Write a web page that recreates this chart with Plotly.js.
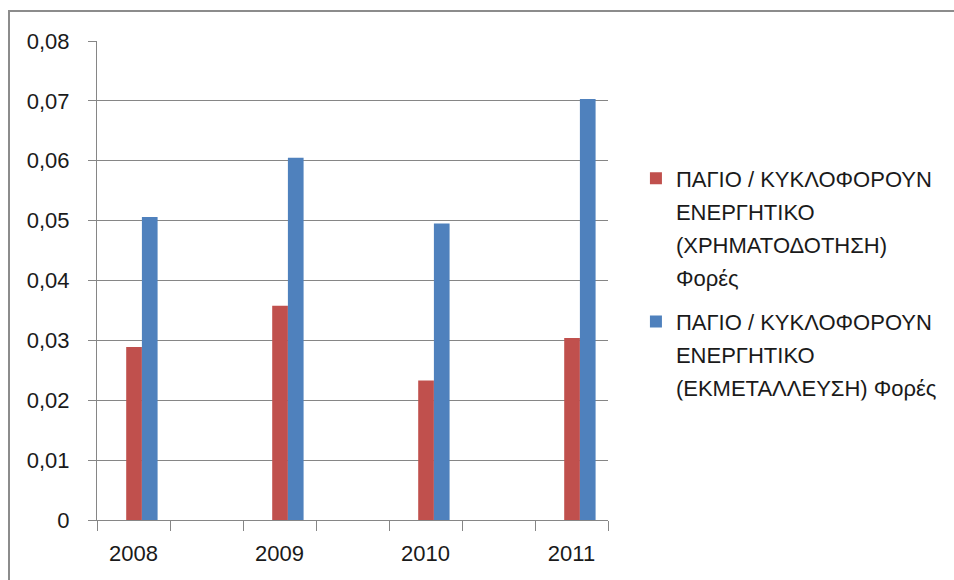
<!DOCTYPE html>
<html>
<head>
<meta charset="utf-8">
<script src="https://cdn.plot.ly/plotly-3.0.1.min.js"></script>
<style>
  html, body { margin: 0; padding: 0; background: #ffffff; }
  #wrap { position: relative; width: 954px; height: 580px; overflow: hidden; }
  #chart { position: absolute; left: 0; top: 0; width: 954px; height: 580px; }
  #frame { position: absolute; left: 8px; top: 10px; width: 960px; height: 600px;
           border-left: 2px solid #8c8c8c; border-top: 2px solid #8c8c8c; pointer-events: none; }
</style>
</head>
<body>
<div id="wrap">
  <div id="chart"></div>
  <div id="frame"></div>
</div>
<script>
// ---- data ----
var years = ["2008", "2009", "2010", "2011"];
var financing = [0.0289, 0.0358, 0.0233, 0.0304];   // ΧΡΗΜΑΤΟΔΟΤΗΣΗ
var operation = [0.0506, 0.0605, 0.0495, 0.0703];   // ΕΚΜΕΤΑΛΛΕΥΣΗ
var seriesNames = [
  "ΠΑΓΙΟ / ΚΥΚΛΟΦΟΡΟΥΝ<br>ΕΝΕΡΓΗΤΙΚΟ<br>(ΧΡΗΜΑΤΟΔΟΤΗΣΗ)<br>Φορές",
  "ΠΑΓΙΟ / ΚΥΚΛΟΦΟΡΟΥΝ<br>ΕΝΕΡΓΗΤΙΚΟ<br>(ΕΚΜΕΤΑΛΛΕΥΣΗ) Φορές"
];

// category slots: each year followed by an empty spacer slot
var slots = [];
years.forEach(function (y, i) {
  slots.push(y);
  if (i < years.length - 1) slots.push(" ".repeat(i + 1));
});

var font = "Liberation Sans, Arial, sans-serif";

var traces = [
  {
    type: "bar", x: years, y: financing, name: seriesNames[0], legendgroup: "a",
    marker: { color: "#C0504D" }, width: 0.215, offset: -0.1,
    hoverinfo: "x+y"
  },
  {
    type: "bar", x: years, y: operation, name: seriesNames[1], legendgroup: "b",
    marker: { color: "#4F81BD" }, width: 0.215, offset: 0.115,
    hoverinfo: "x+y"
  }
];

var layout = {
  width: 954, height: 580,
  paper_bgcolor: "#ffffff", plot_bgcolor: "#ffffff",
  margin: { l: 97, r: 346, t: 41, b: 60, pad: 0 },
  separators: ",.",
  font: { family: font, size: 22, color: "#1a1a1a" },
  barmode: "overlay",
  showlegend: true,
  xaxis: {
    type: "category",
    categoryorder: "array", categoryarray: slots,
    range: [-0.5, slots.length - 0.5],
    tickson: "boundaries",
    ticks: "outside", ticklen: 10, tickcolor: "#868686", tickwidth: 1,
    showline: true, linecolor: "#868686", linewidth: 1,
    showgrid: false, zeroline: false,
    tickfont: { family: font, size: 22, color: "#1a1a1a" },
    ticklabelstandoff: 14
  },
  yaxis: {
    range: [0, 0.08], tick0: 0, dtick: 0.01,
    ticks: "outside", ticklen: 8, tickcolor: "#868686", tickwidth: 1,
    showline: true, linecolor: "#868686", linewidth: 1,
    showgrid: true, gridcolor: "#868686", gridwidth: 1,
    zeroline: false,
    tickfont: { family: font, size: 22, color: "#1a1a1a" },
    ticklabelstandoff: 14
  },
  legend: {
    xref: "container", yref: "container",
    x: 0.6666, y: 0.7286, xanchor: "left", yanchor: "top",
    valign: "top",
    bgcolor: "rgba(0,0,0,0)", borderwidth: 0,
    font: { family: font, size: 22, color: "#1a1a1a" },
    tracegroupgap: 26
  }
};

Plotly.newPlot("chart", traces, layout, { displayModeBar: false, staticPlot: true })
  .then(function (gd) {
    // widen the line spacing of the multi-line legend labels (1.3em -> 1.5em)
    gd.querySelectorAll(".legend .legendtext tspan.line").forEach(function (t) {
      var dy = parseFloat(t.getAttribute("dy"));
      if (!isNaN(dy)) t.setAttribute("dy", (dy / 1.3 * 1.5) + "em");
    });
  });
</script>
</body>
</html>
